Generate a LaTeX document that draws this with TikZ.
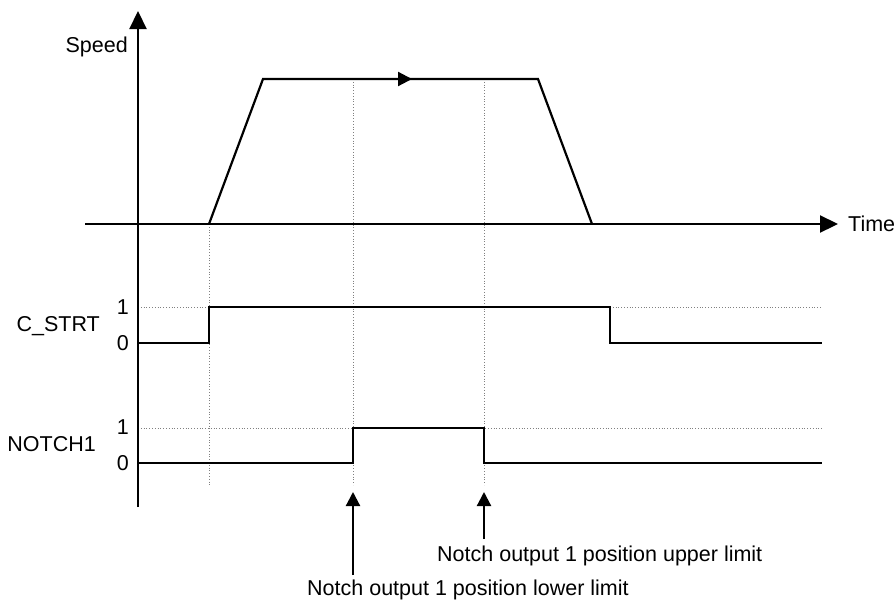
\documentclass[tikz,border=0pt]{standalone}
\usepackage{fontspec}
\setmainfont{Liberation Sans}
\usetikzlibrary{arrows.meta}
\begin{document}
\begin{tikzpicture}[x=1pt,y=-1pt,
  sig/.style={line width=2.2pt, line join=miter},
  axis/.style={line width=2.2pt},
  guide/.style={line width=0.8pt, gray, dotted},
  tip/.style={-{Triangle[length=14pt,width=14pt]}},
  bigtip/.style={-{Triangle[length=18pt,width=17pt]}},
  lbl/.style={inner sep=0pt, font=\fontsize{21.5}{26}\selectfont}]
\useasboundingbox (0,0) rectangle (896,600);
% axes
\coordinate (vb) at (138,507);
\coordinate (vt) at (138,11);
\coordinate (hl) at (85,224);
\coordinate (hr) at (838,224);
% speed profile
\coordinate (s0) at (209,224);
\coordinate (s1) at (263,79);
\coordinate (sm) at (412,79);
\coordinate (s2) at (538,79);
\coordinate (s3) at (592,224);
% guide lines
\coordinate (ga) at (209,485);
\coordinate (gb1) at (353,79);
\coordinate (gb) at (353,485);
\coordinate (gc1) at (484,79);
\coordinate (gc) at (484,485);
% C_STRT
\coordinate (c0) at (138,343);
\coordinate (c1) at (209,343);
\coordinate (c2) at (209,307);
\coordinate (c3) at (610,307);
\coordinate (c4) at (610,343);
\coordinate (c5) at (822,343);
\coordinate (c1l) at (138,307);
\coordinate (c1r) at (822,307);
% NOTCH1
\coordinate (n0) at (138,463);
\coordinate (n1) at (353,463);
\coordinate (n2) at (353,428);
\coordinate (n3) at (484,428);
\coordinate (n4) at (484,463);
\coordinate (n5) at (822,463);
\coordinate (n1l) at (138,428);
\coordinate (n1r) at (822,428);
% annotation arrows
\coordinate (la) at (353,575);
\coordinate (lt) at (353,492);
\coordinate (ua) at (484,539);
\coordinate (ut) at (484,492);

% guides
\draw[guide] (s0) -- (ga);
\draw[guide] (gb1) -- (gb);
\draw[guide] (gc1) -- (gc);
\draw[guide] (c1l) -- (c2);
\draw[guide] (c3) -- (c1r);
\draw[guide] (n1l) -- (n1r);

% axes
\draw[axis,bigtip] (vb) -- (vt);
\draw[axis,bigtip] (hl) -- (hr);

% speed
\draw[sig] (s0) -- (s1) -- (s2) -- (s3);
\draw[sig,tip] (s1) -- (sm);

% signals
\draw[sig] (c0) -- (c1) -- (c2) -- (c3) -- (c4) -- (c5);
\draw[sig] (n0) -- (n1) -- (n2) -- (n3) -- (n4) -- (n5);

% annotation arrows
\draw[sig,tip] (la) -- (lt);
\draw[sig,tip] (ua) -- (ut);

% labels
\node[lbl,anchor=east] (speed) at (128,47) {Speed};
\node[lbl,anchor=west] (time) at (848,224) {Time};
\node[lbl,anchor=east] (cstrt) at (100,326) {C\_STRT};
\node[lbl,anchor=east] (notch) at (96,444) {NOTCH1};
\node[lbl,anchor=east] (c1lab) at (129,307) {1};
\node[lbl,anchor=east] (c0lab) at (129,343) {0};
\node[lbl,anchor=east] (n1lab) at (129,427) {1};
\node[lbl,anchor=east] (n0lab) at (129,463) {0};
\node[lbl,anchor=west] (upper) at (437,556) {Notch output 1 position upper limit};
\node[lbl,anchor=west] (lower) at (307,590) {Notch output 1 position lower limit};
\end{tikzpicture}
\end{document}
